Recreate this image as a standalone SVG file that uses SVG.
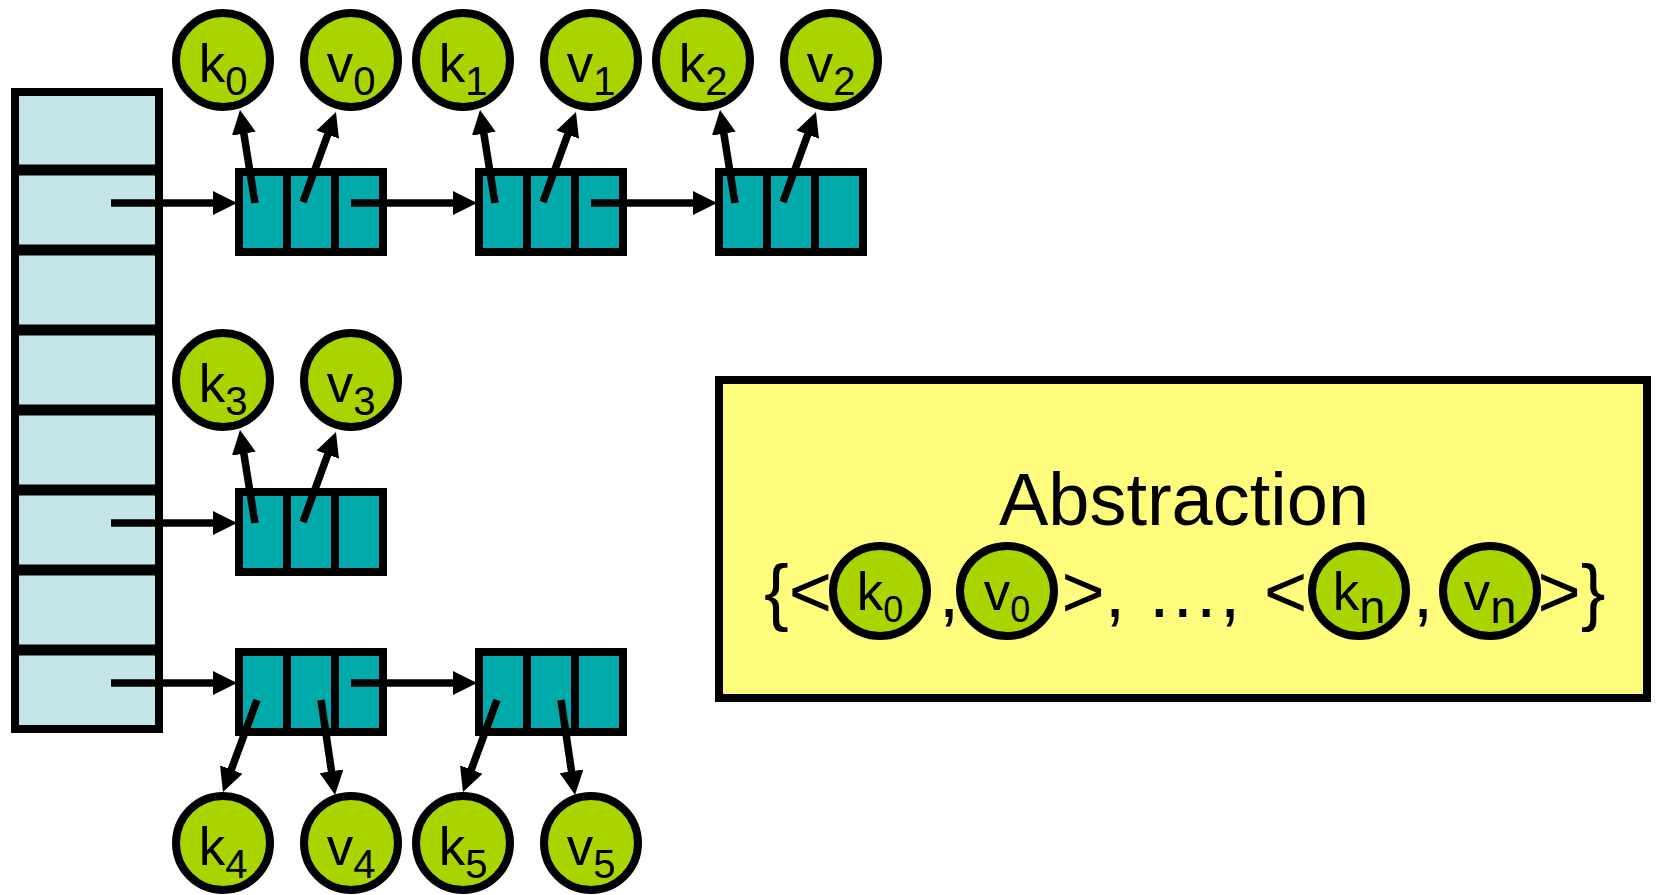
<svg xmlns="http://www.w3.org/2000/svg" width="1657" height="895" viewBox="0 0 1657 895">
  <defs>
    <marker id="ah" markerUnits="userSpaceOnUse" markerWidth="25" markerHeight="24" refX="2" refY="12" orient="auto">
      <path d="M0,0 L24,12 L0,24 z" fill="#000"/>
    </marker>
    <style>
      .bucket { fill: #C5E6E8; stroke: #000; stroke-width: 8; }
      .div { stroke: #000; stroke-width: 11; }
      .box { fill: #00A9AA; stroke: #000; stroke-width: 8; }
      .sep { stroke: #000; stroke-width: 8; }
      .kv { fill: #A9D400; stroke: #000; stroke-width: 8; }
      .lbl { font-family: "Liberation Sans", Arial, sans-serif; font-size: 53px; fill: #000; text-anchor: middle; }
      .sub { font-size: 40px; }
      .sub2 { font-size: 36px; }
      .subn { font-size: 47px; }
      .abs { fill: #FFFC7E; stroke: #000; stroke-width: 8; }
      .big { font-family: "Liberation Sans", Arial, sans-serif; font-size: 74px; fill: #000; }
      .conn line { stroke: #000; stroke-width: 7.5; marker-end: url(#ah); }
    </style>
  </defs>

  <rect width="1657" height="895" fill="#fff"/>

  <!-- bucket array -->
  <g id="buckets">
    <rect class="bucket" x="15" y="92" width="144" height="637"/>
    <line class="div" x1="11" y1="170" x2="163" y2="170"/>
    <line class="div" x1="11" y1="250" x2="163" y2="250"/>
    <line class="div" x1="11" y1="330" x2="163" y2="330"/>
    <line class="div" x1="11" y1="410" x2="163" y2="410"/>
    <line class="div" x1="11" y1="490" x2="163" y2="490"/>
    <line class="div" x1="11" y1="570" x2="163" y2="570"/>
    <line class="div" x1="11" y1="650" x2="163" y2="650"/>
  </g>

  <!-- list entries: key / value / next -->
  <g id="entry-0">
    <rect class="box" x="239" y="172" width="144" height="80"/>
    <line class="sep" x1="287" y1="172" x2="287" y2="252"/>
    <line class="sep" x1="335" y1="172" x2="335" y2="252"/>
  </g>
  <g id="entry-1">
    <rect class="box" x="479" y="172" width="144" height="80"/>
    <line class="sep" x1="527" y1="172" x2="527" y2="252"/>
    <line class="sep" x1="575" y1="172" x2="575" y2="252"/>
  </g>
  <g id="entry-2">
    <rect class="box" x="719" y="172" width="144" height="80"/>
    <line class="sep" x1="767" y1="172" x2="767" y2="252"/>
    <line class="sep" x1="815" y1="172" x2="815" y2="252"/>
  </g>
  <g id="entry-3">
    <rect class="box" x="239" y="492" width="144" height="80"/>
    <line class="sep" x1="287" y1="492" x2="287" y2="572"/>
    <line class="sep" x1="335" y1="492" x2="335" y2="572"/>
  </g>
  <g id="entry-4">
    <rect class="box" x="239" y="652" width="144" height="80"/>
    <line class="sep" x1="287" y1="652" x2="287" y2="732"/>
    <line class="sep" x1="335" y1="652" x2="335" y2="732"/>
  </g>
  <g id="entry-5">
    <rect class="box" x="479" y="652" width="144" height="80"/>
    <line class="sep" x1="527" y1="652" x2="527" y2="732"/>
    <line class="sep" x1="575" y1="652" x2="575" y2="732"/>
  </g>

  <!-- pointers -->
  <g id="connectors" class="conn">
    <line x1="111" y1="203" x2="215" y2="203"/>
    <line x1="351" y1="203" x2="455" y2="203"/>
    <line x1="591" y1="203" x2="695" y2="203"/>
    <line x1="111" y1="523" x2="215" y2="523"/>
    <line x1="111" y1="683" x2="215" y2="683"/>
    <line x1="351" y1="683" x2="455" y2="683"/>

    <line x1="255" y1="203" x2="243.5" y2="131.7"/>
    <line x1="303" y1="202" x2="328.4" y2="132.7"/>
    <line x1="495" y1="203" x2="483.5" y2="131.7"/>
    <line x1="543" y1="202" x2="568.4" y2="132.7"/>
    <line x1="735" y1="203" x2="723.5" y2="131.7"/>
    <line x1="783" y1="202" x2="808.4" y2="132.7"/>

    <line x1="255" y1="523" x2="243.5" y2="451.7"/>
    <line x1="303" y1="522" x2="328.4" y2="452.7"/>

    <line x1="257" y1="700" x2="230.6" y2="771.4"/>
    <line x1="321" y1="700" x2="331.8" y2="773.2"/>
    <line x1="497" y1="700" x2="470.6" y2="771.4"/>
    <line x1="561" y1="700" x2="571.8" y2="773.2"/>
  </g>

  <!-- keys and values -->
  <g id="k0"><circle class="kv" cx="223" cy="60" r="47"/><text class="lbl" x="223" y="82">k<tspan class="sub" dy="13">0</tspan></text></g>
  <g id="v0"><circle class="kv" cx="351" cy="60" r="47"/><text class="lbl" x="351" y="82">v<tspan class="sub" dy="13">0</tspan></text></g>
  <g id="k1"><circle class="kv" cx="463" cy="60" r="47"/><text class="lbl" x="463" y="82">k<tspan class="sub" dy="13">1</tspan></text></g>
  <g id="v1"><circle class="kv" cx="591" cy="60" r="47"/><text class="lbl" x="591" y="82">v<tspan class="sub" dy="13">1</tspan></text></g>
  <g id="k2"><circle class="kv" cx="703" cy="60" r="47"/><text class="lbl" x="703" y="82">k<tspan class="sub" dy="13">2</tspan></text></g>
  <g id="v2"><circle class="kv" cx="831" cy="60" r="47"/><text class="lbl" x="831" y="82">v<tspan class="sub" dy="13">2</tspan></text></g>

  <g id="k3"><circle class="kv" cx="223" cy="380" r="47"/><text class="lbl" x="223" y="402">k<tspan class="sub" dy="13">3</tspan></text></g>
  <g id="v3"><circle class="kv" cx="351" cy="380" r="47"/><text class="lbl" x="351" y="402">v<tspan class="sub" dy="13">3</tspan></text></g>

  <g id="k4"><circle class="kv" cx="223" cy="843" r="47"/><text class="lbl" x="223" y="865">k<tspan class="sub" dy="13">4</tspan></text></g>
  <g id="v4"><circle class="kv" cx="351" cy="843" r="47"/><text class="lbl" x="351" y="865">v<tspan class="sub" dy="13">4</tspan></text></g>
  <g id="k5"><circle class="kv" cx="463" cy="843" r="47"/><text class="lbl" x="463" y="865">k<tspan class="sub" dy="13">5</tspan></text></g>
  <g id="v5"><circle class="kv" cx="591" cy="843" r="47"/><text class="lbl" x="591" y="865">v<tspan class="sub" dy="13">5</tspan></text></g>

  <!-- abstract view -->
  <g id="abstraction">
    <rect class="abs" x="719" y="380" width="928" height="318"/>
    <text class="big" x="1184" y="525" text-anchor="middle">Abstraction</text>
    <text class="big" x="764" y="617">{&lt;</text>
    <text class="big" x="949" y="617" text-anchor="middle">,</text>
    <text class="big" x="1061.5" y="617">&gt;, …,</text>
    <text class="big" x="1264" y="617">&lt;</text>
    <text class="big" x="1423" y="617" text-anchor="middle">,</text>
    <text class="big" x="1537.5" y="617">&gt;}</text>
    <ellipse class="kv" cx="880" cy="591" rx="47" ry="45"/>
    <text class="lbl" x="880" y="610">k<tspan class="sub2" dy="12">0</tspan></text>
    <ellipse class="kv" cx="1007" cy="591" rx="47" ry="45"/>
    <text class="lbl" x="1007" y="610">v<tspan class="sub2" dy="12">0</tspan></text>
    <ellipse class="kv" cx="1359" cy="591" rx="47" ry="45"/>
    <text class="lbl" x="1359" y="610">k<tspan class="subn" dy="13">n</tspan></text>
    <ellipse class="kv" cx="1490" cy="591" rx="47" ry="45"/>
    <text class="lbl" x="1490" y="610">v<tspan class="subn" dy="13">n</tspan></text>
  </g>
</svg>
